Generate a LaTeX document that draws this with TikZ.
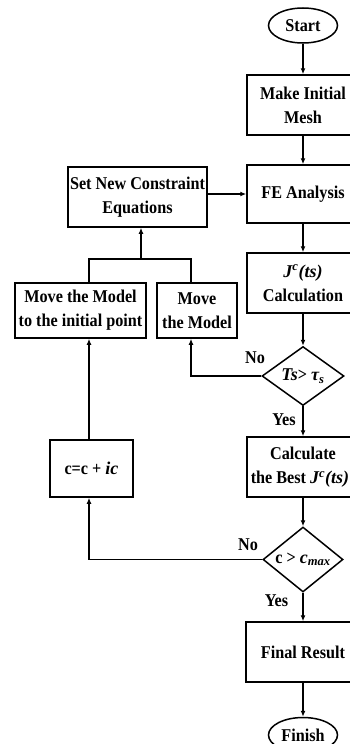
\documentclass[tikz,border=0pt]{standalone}
\usepackage{fontspec}
\setmainfont{Liberation Serif}[FakeStretch=0.9]
\newfontfamily\mifont{Liberation Serif}
\newcommand{\mi}[1]{{\mifont\itshape #1}}
\usetikzlibrary{shapes.geometric,arrows.meta}
\begin{document}
\begin{tikzpicture}[x=1pt,y=-1pt,line width=1.5pt,
  txt/.style={font=\bfseries\fontsize{18}{24}\selectfont},
  box/.style={txt,draw,rectangle,inner sep=0pt,align=center},
  term/.style={txt,draw,ellipse,inner sep=0pt,minimum width=69pt,minimum height=35pt},
  dia/.style={txt,draw,diamond,inner sep=0pt},
  lbl/.style={txt,inner sep=0pt},
  arr/.style={-{Latex[length=6pt,width=5pt]}}]
\useasboundingbox (0,0) rectangle (350,744);
\clip (0,0) rectangle (350,744);
% main column
\node[term] (start) at (303,25.5) {Start};
\node[box,minimum width=112pt,minimum height=60pt] (mesh) at (303,105) {Make Initial\\Mesh};
\node[box,minimum width=112pt,minimum height=58pt] (fe) at (303,194) {FE Analysis};
\node[box,minimum width=112pt,minimum height=60pt] (jc) at (303,283) {\mi{J}\textsuperscript{\mi{c}}\mi{(ts)}\\Calculation};
\node[dia,minimum width=82pt,minimum height=59pt] (d1) at (303,376) {\makebox[0pt]{\mi{Ts}> \mi{τ}\textsubscript{\mi{s}}}};
\node[box,minimum width=112pt,minimum height=60pt] (best) at (303,467) {Calculate\\\makebox[0pt]{\kern-6pt the Best \mi{J}\textsuperscript{\mi{c}}\mi{(ts)}}};
\node[dia,minimum width=80pt,minimum height=65pt] (d2) at (303,559.5) {\makebox[0pt]{c > \mi{c}\textsubscript{\mi{max}}}};
\node[box,minimum width=114pt,minimum height=60pt] (final) at (303,652) {Final Result};
\node[term] (finish) at (303,735) {Finish};
% left side
\node[box,minimum width=139pt,minimum height=60pt] (snc) at (137.5,197) {Set New Constraint\\Equations};
\node[box,minimum width=131pt,minimum height=55pt] (mm1) at (80.5,310.5) {Move the Model\\to the initial point};
\node[box,minimum width=80pt,minimum height=55pt] (mm2) at (197,310.5) {Move\\the Model};
\node[box,minimum width=83pt,minimum height=57pt] (cc) at (91.5,468.5) {c=c + \mi{ic}};
% junction coordinates
\coordinate (jL) at (89,259);
\coordinate (jM) at (141,259);
\coordinate (jR) at (191,259);
% connectors
\draw[arr] (start) -- (mesh);
\draw[arr] (mesh) -- (fe);
\draw[arr] (fe) -- (jc);
\draw[arr] (jc) -- (d1);
\draw[arr] (d1) -- (best);
\draw[arr] (best) -- (d2);
\draw[arr] (d2) -- (final);
\draw[arr] (final) -- (finish);
\draw[arr] (snc.east |- fe.west) -- (fe.west);
\draw (mm1.north -| jL) -- (jL) -- (jR) -- (mm2.north -| jR);
\draw[arr] (jM) -- (snc.south -| jM);
\draw[arr] (d1.west) -| (mm2.south -| jR);
\draw[arr] (d2.west) -| (cc.south -| jL);
\draw[arr] (cc.north -| jL) -- (mm1.south -| jL);
% labels
\node[lbl] (no1) at (255,358) {No};
\node[lbl] (yes1) at (284,420) {Yes};
\node[lbl] (no2) at (248,545) {No};
\node[lbl] (yes2) at (276.5,601) {Yes};
\end{tikzpicture}
\end{document}
